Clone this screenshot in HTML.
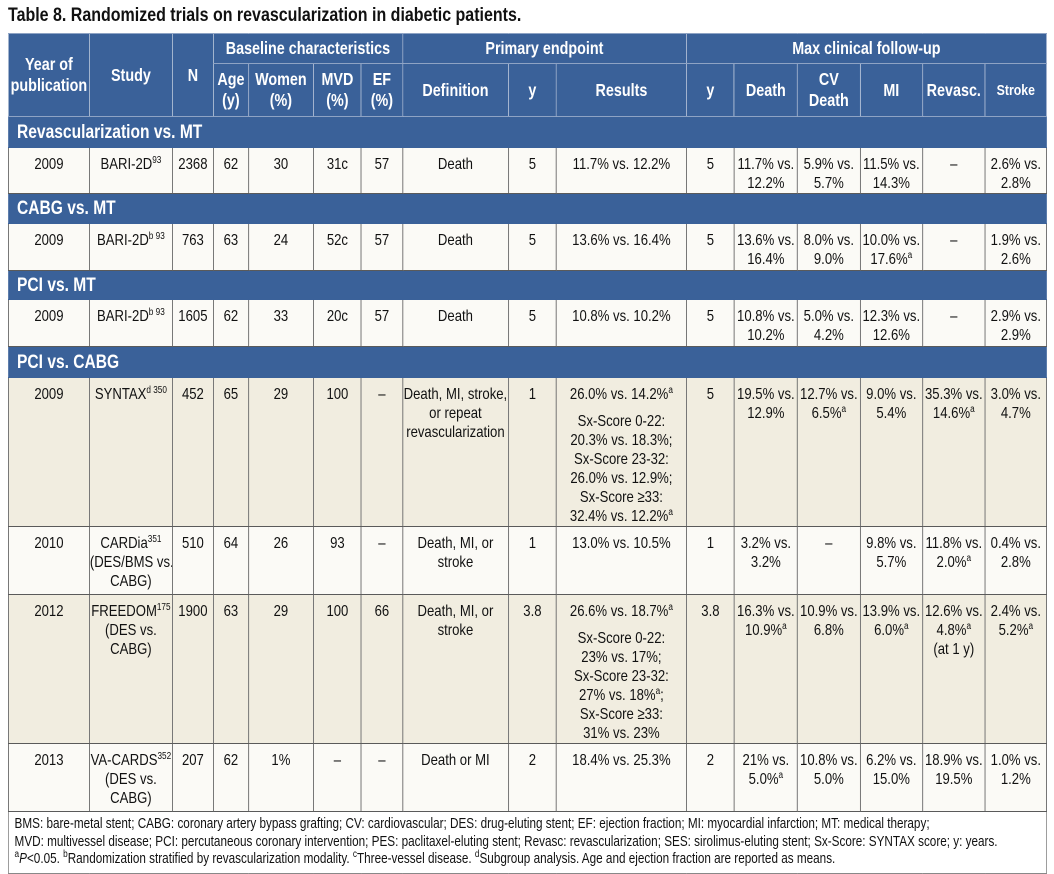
<!DOCTYPE html>
<html><head><meta charset="utf-8">
<style>
html,body{margin:0;padding:0;background:#fff;width:1054px;height:873px;overflow:hidden}
body{font-family:"Liberation Sans",sans-serif;color:#111}
.title{position:absolute;left:8px;top:4px;font-size:19.5px;font-weight:bold;transform:scaleX(0.82);transform-origin:left top;white-space:nowrap}
table{position:absolute;left:8px;top:33px;border-collapse:collapse;table-layout:fixed;width:1266px;transform:scaleX(0.82);transform-origin:left top}
td,th{padding:0;font-size:16px;line-height:19px;text-align:center;vertical-align:top;overflow:hidden;white-space:nowrap}
th{background:#3a6199;color:#fff;font-weight:bold;font-size:17.5px;line-height:21px;vertical-align:middle;border:1px solid #8ea3c4}
tr.sec td{background:#3a6199;color:#fff;font-weight:bold;font-size:19px;text-align:left;padding-left:10px;vertical-align:middle;border:1px solid #3a6199}
tr.d td{border:1px solid #5a5a5a;padding-top:7px}
tr.l td{background:#fbfaf6}
tr.b td{background:#f1ede0}
sup{font-size:10px;line-height:0;vertical-align:6px}
.foot td{background:#fff;text-align:left;font-size:14.3px;line-height:17.5px;padding:4px 7px;border:1px solid #888;white-space:nowrap;vertical-align:top}
.gap{height:8px}
</style></head><body>
<div class="title">Table 8. Randomized trials on revascularization in diabetic patients.</div>
<table>
<colgroup>
<col style="width:98.8px"><col style="width:101.2px"><col style="width:50px"><col style="width:42.7px"><col style="width:79.3px"><col style="width:58.5px"><col style="width:50px"><col style="width:129.3px"><col style="width:58.5px"><col style="width:158.5px"><col style="width:58.5px"><col style="width:76.8px"><col style="width:76.8px"><col style="width:75.6px"><col style="width:76.8px"><col style="width:74.4px">
</colgroup>
<tr style="height:30px"><th rowspan="2">Year of<br>publication</th><th rowspan="2">Study</th><th rowspan="2">N</th><th colspan="4">Baseline characteristics</th><th colspan="3">Primary endpoint</th><th colspan="6">Max clinical follow-up</th></tr>
<tr style="height:53px"><th>Age<br>(y)</th><th>Women<br>(%)</th><th>MVD<br>(%)</th><th>EF<br>(%)</th><th>Definition</th><th>y</th><th>Results</th><th>y</th><th>Death</th><th>CV<br>Death</th><th>MI</th><th>Revasc.</th><th style="font-size:15px">Stroke</th></tr>
<tr class="sec" style="height:31px"><td colspan="16">Revascularization vs. MT</td></tr>
<tr class="d l" style="height:46px"><td>2009</td><td>BARI-2D<sup>93</sup></td><td>2368</td><td>62</td><td>30</td><td>31c</td><td>57</td><td>Death</td><td>5</td><td>11.7% vs. 12.2%</td><td>5</td><td>11.7% vs.<br>12.2%</td><td>5.9% vs.<br>5.7%</td><td>11.5% vs.<br>14.3%</td><td>–</td><td>2.6% vs.<br>2.8%</td></tr>
<tr class="sec" style="height:30px"><td colspan="16">CABG vs. MT</td></tr>
<tr class="d l" style="height:47px"><td>2009</td><td>BARI-2D<sup>b 93</sup></td><td>763</td><td>63</td><td>24</td><td>52c</td><td>57</td><td>Death</td><td>5</td><td>13.6% vs. 16.4%</td><td>5</td><td>13.6% vs.<br>16.4%</td><td>8.0% vs.<br>9.0%</td><td>10.0% vs.<br>17.6%<sup>a</sup></td><td>–</td><td>1.9% vs.<br>2.6%</td></tr>
<tr class="sec" style="height:29px"><td colspan="16">PCI vs. MT</td></tr>
<tr class="d l" style="height:47px"><td>2009</td><td>BARI-2D<sup>b 93</sup></td><td>1605</td><td>62</td><td>33</td><td>20c</td><td>57</td><td>Death</td><td>5</td><td>10.8% vs. 10.2%</td><td>5</td><td>10.8% vs.<br>10.2%</td><td>5.0% vs.<br>4.2%</td><td>12.3% vs.<br>12.6%</td><td>–</td><td>2.9% vs.<br>2.9%</td></tr>
<tr class="sec" style="height:31px"><td colspan="16">PCI vs. CABG</td></tr>
<tr class="d b" style="height:147px"><td>2009</td><td>SYNTAX<sup>d 350</sup></td><td>452</td><td>65</td><td>29</td><td>100</td><td>–</td><td>Death, MI, stroke,<br>or repeat<br>revascularization</td><td>1</td><td>26.0% vs. 14.2%<sup>a</sup><div class="gap"></div>Sx-Score 0-22:<br>20.3% vs. 18.3%;<br>Sx-Score 23-32:<br>26.0% vs. 12.9%;<br>Sx-Score ≥33:<br>32.4% vs. 12.2%<sup>a</sup></td><td>5</td><td>19.5% vs.<br>12.9%</td><td>12.7% vs.<br>6.5%<sup>a</sup></td><td>9.0% vs.<br>5.4%</td><td>35.3% vs.<br>14.6%<sup>a</sup></td><td>3.0% vs.<br>4.7%</td></tr>
<tr class="d l" style="height:68px"><td>2010</td><td>CARDia<sup>351</sup><br>(DES/BMS vs.<br>CABG)</td><td>510</td><td>64</td><td>26</td><td>93</td><td>–</td><td>Death, MI, or<br>stroke</td><td>1</td><td>13.0% vs. 10.5%</td><td>1</td><td>3.2% vs.<br>3.2%</td><td>–</td><td>9.8% vs.<br>5.7%</td><td>11.8% vs.<br>2.0%<sup>a</sup></td><td>0.4% vs.<br>2.8%</td></tr>
<tr class="d b" style="height:146px"><td>2012</td><td>FREEDOM<sup>175</sup><br>(DES vs.<br>CABG)</td><td>1900</td><td>63</td><td>29</td><td>100</td><td>66</td><td>Death, MI, or<br>stroke</td><td>3.8</td><td>26.6% vs. 18.7%<sup>a</sup><div class="gap"></div>Sx-Score 0-22:<br>23% vs. 17%;<br>Sx-Score 23-32:<br>27% vs. 18%<sup>a</sup>;<br>Sx-Score ≥33:<br>31% vs. 23%</td><td>3.8</td><td>16.3% vs.<br>10.9%<sup>a</sup></td><td>10.9% vs.<br>6.8%</td><td>13.9% vs.<br>6.0%<sup>a</sup></td><td>12.6% vs.<br>4.8%<sup>a</sup><br>(at 1 y)</td><td>2.4% vs.<br>5.2%<sup>a</sup></td></tr>
<tr class="d l" style="height:68px"><td>2013</td><td>VA-CARDS<sup>352</sup><br>(DES vs.<br>CABG)</td><td>207</td><td>62</td><td>1%</td><td>–</td><td>–</td><td>Death or MI</td><td>2</td><td>18.4% vs. 25.3%</td><td>2</td><td>21% vs.<br>5.0%<sup>a</sup></td><td>10.8% vs.<br>5.0%</td><td>6.2% vs.<br>15.0%</td><td>18.9% vs.<br>19.5%</td><td>1.0% vs.<br>1.2%</td></tr>
<tr class="foot" style="height:60px"><td colspan="16">BMS: bare-metal stent; CABG: coronary artery bypass grafting; CV: cardiovascular; DES: drug-eluting stent; EF: ejection fraction; MI: myocardial infarction; MT: medical therapy;<br>MVD: multivessel disease; PCI: percutaneous coronary intervention; PES: paclitaxel-eluting stent; Revasc: revascularization; SES: sirolimus-eluting stent; Sx-Score: SYNTAX score; y: years.<br><sup>a</sup><i>P</i>&lt;0.05. <sup>b</sup>Randomization stratified by revascularization modality. <sup>c</sup>Three-vessel disease. <sup>d</sup>Subgroup analysis. Age and ejection fraction are reported as means.</td></tr>
</table>
</body></html>
